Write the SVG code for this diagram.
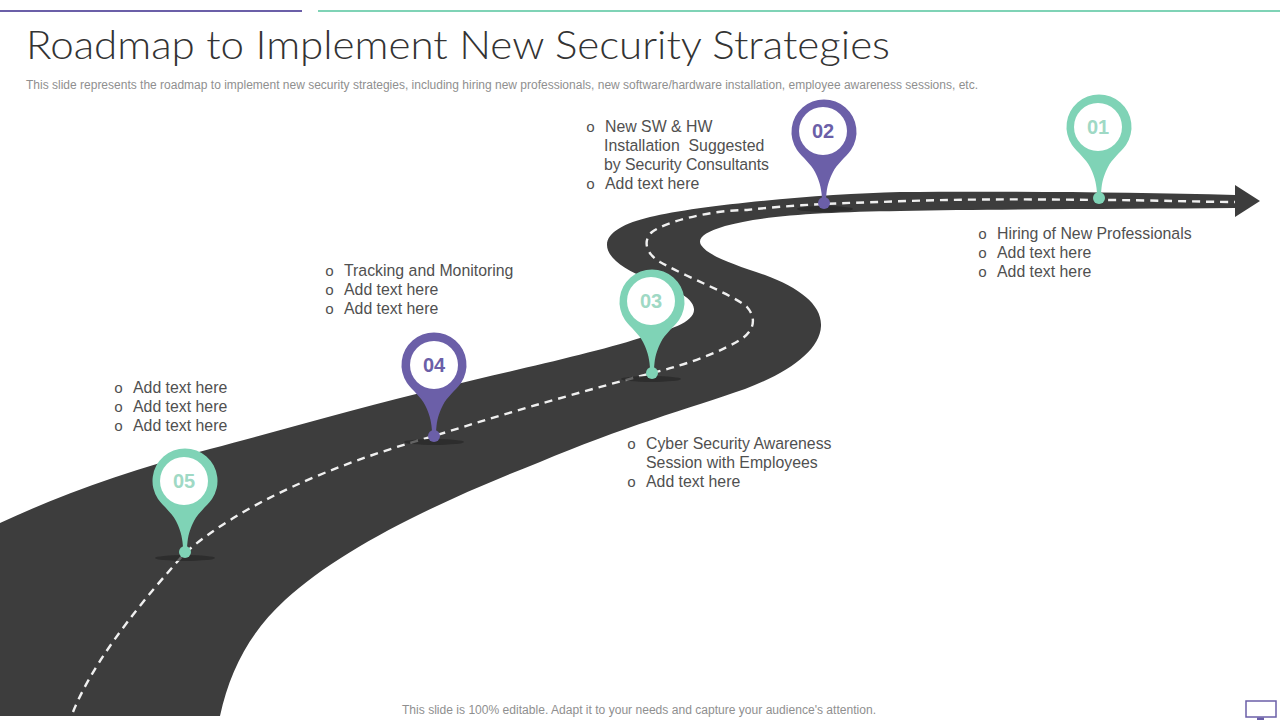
<svg xmlns="http://www.w3.org/2000/svg" width="1280" height="720" viewBox="0 0 1280 720">
<style>
text{font-family:"Liberation Sans",Arial,sans-serif}
.title{font-family:"Lato","Liberation Sans",sans-serif;font-size:39px;fill:#333;font-weight:300}
.sub{font-size:12px;fill:#8f8f8f}
.t{font-size:15.85px;fill:#505050}
.b{font-family:"Liberation Mono",monospace;font-size:15px;fill:#505050}
.num{font-size:20px;font-weight:700;text-anchor:middle}
.road{fill:#3d3d3d}
.dash{fill:none;stroke:#f0f0f0;stroke-width:2.400;stroke-dasharray:8 6}
.g{fill:#7fd3b6}.p{fill:#6b5fa8}
.gt{fill:#9fd9c5}.pt{fill:#6b5fa8}
.sh{fill:#262626;opacity:.7}
.hole{fill:#fff}
</style>
<defs>
<g id="pin">
<path d="M-1.500 0L-2.500 -10C-3.500 -19 -6 -25 -9 -31C-13 -39 -21 -45 -27 -53A32.500 32.500 0 1 1 27 -53C21 -45 13 -39 9 -31C6 -25 3.500 -19 2.500 -10L1.500 0Z"/>
<circle cy="0" r="6"/>
</g>
</defs>
<rect width="1280" height="720" fill="#fff"/>
<rect x="0" y="10" width="302" height="2" fill="#6b5fa8"/>
<rect x="318" y="10" width="962" height="2" fill="#7fd3b6"/>
<text class="title" x="26" y="59" textLength="864" lengthAdjust="spacingAndGlyphs">Roadmap to Implement New Security Strategies</text>
<text class="sub" x="26" y="89" textLength="952" lengthAdjust="spacingAndGlyphs">This slide represents the roadmap to implement new security strategies, including hiring new professionals, new software/hardware installation, employee awareness sessions, etc.</text>
<g id="connectors">
<path class="road" d="M0 523C60 495 130 470 210 449C300 425 370 405 440 388C510 371 590 354 640 338C670 330 695 322 694 309C693 296 670 288 650 280C625 270 607 258 607 245C607 232 625 223 650 217C700 205 820 194 900 192C1000 191 1130 192 1235 195V185L1260 201L1235 217V208C1130 209 1000 209 900 211C820 212 760 216 725 226C705 232 697 238 701 245C708 256 735 265 765 275C800 288 822 305 821 326C820 350 790 372 745 389C690 408 620 428 540 462C430 505 340 550 285 600C250 632 230 670 220 716H0Z"/>
<path class="dash" d="M73 712C90 670 125 620 185 553C240 505 330 465 434 436C510 412 580 392 652 373C690 364 725 350 743 338C756 328 755 316 747 307C730 293 690 279 660 262C645 253 643 240 652 232C665 222 710 210 747 210C790 205 840 203 880 202C950 199 1020 199 1099 200C1150 200 1200 202 1235 202"/>
</g>
<g id="node-01">
<use href="#pin" class="g" x="1099" y="198"/>
<circle class="hole" cx="1098" cy="127" r="24"/>
<text class="num gt" x="1098" y="134">01</text>
</g>
<g id="node-02">
<ellipse class="sh" cx="825" cy="209" rx="28" ry="3"/>
<use href="#pin" class="p" x="824" y="203"/>
<circle class="hole" cx="823" cy="131" r="24"/>
<text class="num pt" x="823" y="138">02</text>
</g>
<g id="node-03">
<ellipse class="sh" cx="651" cy="379" rx="30" ry="3"/>
<use href="#pin" class="g" x="652" y="373"/>
<circle class="hole" cx="651" cy="301" r="24"/>
<text class="num gt" x="651" y="308">03</text>
</g>
<g id="node-04">
<ellipse class="sh" cx="434" cy="442" rx="30" ry="3"/>
<use href="#pin" class="p" x="434" y="436"/>
<circle class="hole" cx="434" cy="365" r="24"/>
<text class="num pt" x="434" y="372">04</text>
</g>
<g id="node-05">
<ellipse class="sh" cx="185" cy="558" rx="30" ry="3"/>
<use href="#pin" class="g" x="185" y="552"/>
<circle class="hole" cx="184" cy="481" r="24"/>
<text class="num gt" x="184" y="488">05</text>
</g>
<g id="labels">
<text class="b" x="586" y="132">o</text><text class="t" x="605" y="132">New SW &amp; HW</text>
<text class="t" x="604" y="151" xml:space="preserve" style="white-space:pre">Installation  Suggested</text>
<text class="t" x="604" y="170" textLength="165">by Security Consultants</text>
<text class="b" x="586" y="189">o</text><text class="t" x="605" y="189">Add text here</text>

<text class="b" x="978" y="239">o</text><text class="t" x="997" y="239">Hiring of New Professionals</text>
<text class="b" x="978" y="258">o</text><text class="t" x="997" y="258">Add text here</text>
<text class="b" x="978" y="277">o</text><text class="t" x="997" y="277">Add text here</text>

<text class="b" x="325" y="276">o</text><text class="t" x="344" y="276">Tracking and Monitoring</text>
<text class="b" x="325" y="295">o</text><text class="t" x="344" y="295">Add text here</text>
<text class="b" x="325" y="314">o</text><text class="t" x="344" y="314">Add text here</text>

<text class="b" x="114" y="393">o</text><text class="t" x="133" y="393">Add text here</text>
<text class="b" x="114" y="412">o</text><text class="t" x="133" y="412">Add text here</text>
<text class="b" x="114" y="431">o</text><text class="t" x="133" y="431">Add text here</text>

<text class="b" x="627" y="449">o</text><text class="t" x="646" y="449">Cyber Security Awareness</text>
<text class="t" x="646" y="468">Session with Employees</text>
<text class="b" x="627" y="487">o</text><text class="t" x="646" y="487">Add text here</text>
</g>
<text class="sub" x="402" y="714" textLength="474" lengthAdjust="spacingAndGlyphs">This slide is 100% editable. Adapt it to your needs and capture your audience's attention.</text>
<g id="icon">
<rect x="1246" y="701" width="30" height="16" fill="#fff" stroke="#6b5fa8" stroke-width="1.500"/>
<rect x="1257" y="717.500" width="7" height="2.500" fill="#6b5fa8"/>
</g>
</svg>
